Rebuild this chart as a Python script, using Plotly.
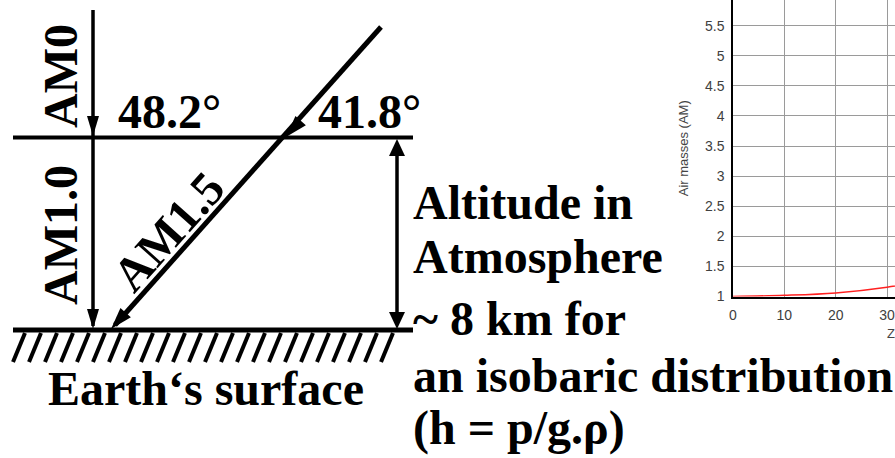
import math
import plotly.graph_objects as go

# ---- chart data ----
zenith_deg = [0, 10, 20, 30, 40, 50, 60, 70, 80]
air_mass = [1.0, 1.02, 1.06, 1.155, 1.31, 1.56, 2.0, 2.92, 5.76]
y_ticks = [1, 1.5, 2, 2.5, 3, 3.5, 4, 4.5, 5, 5.5, 6]
y_tick_text = ["1", "1.5", "2", "2.5", "3", "3.5", "4", "4.5", "5", "5.5", "6"]
x_ticks = [0, 10, 20, 30, 40, 50, 60, 70, 80, 90]

W, H = 895, 458
SERIF = "Liberation Serif, Times New Roman, serif"
SANS = "Liberation Sans, Arial, sans-serif"

fig = go.Figure()

fig.add_trace(go.Scatter(
    x=zenith_deg, y=air_mass, mode="lines",
    line=dict(color="#ff2020", width=1.5, shape="spline"),
    xaxis="x", yaxis="y", showlegend=False, hoverinfo="skip",
))

# ---- diagram (left side) in pixel-like overlay coordinates ----
shapes = []

def line(x0, y0, x1, y1, w):
    shapes.append(dict(type="line", xref="x2", yref="y2", x0=x0, y0=y0, x1=x1, y1=y1,
                       line=dict(color="black", width=w), layer="above"))

def head(tx, ty, dx, dy, L, hw):
    n = math.hypot(dx, dy)
    dx, dy = dx / n, dy / n
    bx, by = tx - L * dx, ty - L * dy
    px, py = -dy, dx
    p = (f"M {tx},{ty} L {bx + hw*px},{by + hw*py} "
         f"L {bx - hw*px},{by - hw*py} Z")
    shapes.append(dict(type="path", xref="x2", yref="y2", path=p,
                       fillcolor="black", line=dict(width=0), layer="above"))

# horizontal lines
line(13, 137.5, 413, 137.5, 4)
line(13, 330, 413, 330, 5)
# hatching
for i in range(24):
    bx = 13 + 16 * i
    line(bx, 362, bx + 12, 333, 4)
# vertical AM0 / AM1.0 ray
line(93, 10, 93, 326, 3.5)
head(93, 136, 0, 1, 20, 6)
head(93, 329, 0, 1, 20, 6)
# oblique AM1.5 ray
dx, dy = 112 - 381, 328 - 27
line(381, 27, 115, 325, 5)
head(286, 137, dx, dy, 22, 7)
head(111, 329, dx, dy, 22, 7)
# double arrow (altitude)
line(397, 150, 397, 318, 3.5)
head(397, 139, 0, -1, 17, 8)
head(397, 329, 0, 1, 17, 8)

ann = []

def txt(x, y, s, size=48, angle=0, xanchor="center", yanchor="middle", family=SERIF,
        color="black", weight="bold"):
    ann.append(dict(x=x, y=y, xref="x2", yref="y2", text=s, showarrow=False,
                    textangle=angle, xanchor=xanchor, yanchor=yanchor,
                    font=dict(family=family, size=size, color=color, weight=weight)))

txt(60, 76, "AM0", angle=-90)
txt(60, 235, "AM1.0", angle=-90)
txt(168, 231, "AM1.5", angle=-48.2)
txt(116, 111, "48.2°", xanchor="left")
txt(316, 111, "41.8°", xanchor="left")
txt(206, 388, "Earth‘s surface")
txt(411, 202, "Altitude in", xanchor="left")
txt(411, 256, "Atmosphere", xanchor="left")
txt(411, 318, "~ 8 km for", xanchor="left")
txt(411, 375, "an isobaric distribution", xanchor="left")
txt(411, 428, "(h = p/g.ρ)", xanchor="left")
# visible part of the chart's x-axis title (cropped in the reference)
txt(885, 333, "Z", size=13, xanchor="left", family=SANS,
    color="#444444", weight="normal")

# ---- chart axes geometry ----
x_left_px, y_bottom_px = 733, 296.5
px_per_x = (887 - 733) / 30.0
px_per_y = (296.5 - 25.7) / 4.5
x_max = (W - x_left_px) / px_per_x
y_max = 1 + y_bottom_px / px_per_y

fig.update_layout(
    template="none",
    width=W, height=H,
    margin=dict(l=0, r=0, t=0, b=0, pad=0),
    paper_bgcolor="white", plot_bgcolor="rgba(0,0,0,0)",
    shapes=shapes, annotations=ann,
    xaxis=dict(domain=[x_left_px / W, 1], range=[0, x_max], tickvals=x_ticks,
               showgrid=True, gridcolor="#9a9a9a", gridwidth=1.4,
               showline=True, linecolor="black", linewidth=1.5,
               ticks="outside", ticklen=5, tickcolor="rgba(0,0,0,0)",
               tickfont=dict(family=SANS, size=14, color="#404040"),
               zeroline=False, anchor="y", automargin=False),
    yaxis=dict(domain=[(H - y_bottom_px) / H, 1], range=[1, y_max],
               tickvals=y_ticks, ticktext=y_tick_text,
               showgrid=True, gridcolor="#9a9a9a", gridwidth=1.4,
               showline=True, linecolor="black", linewidth=1.5,
               ticks="outside", ticklen=4, tickcolor="rgba(0,0,0,0)",
               tickfont=dict(family=SANS, size=14, color="#404040"),
               title=dict(text="Air masses (AM)", standoff=13,
                          font=dict(family=SANS, size=13, color="#444444")),
               zeroline=False, anchor="x", automargin=False),
    xaxis2=dict(domain=[0, 1], range=[0, W], visible=False, anchor="y2",
                fixedrange=True, automargin=False),
    yaxis2=dict(domain=[0, 1], range=[H, 0], visible=False, anchor="x2",
                fixedrange=True, automargin=False),
)

fig.write_html("out.html",
               config={"displayModeBar": False},
               post_script="document.body.style.margin='0';"
                           "document.body.style.overflow='hidden';")
